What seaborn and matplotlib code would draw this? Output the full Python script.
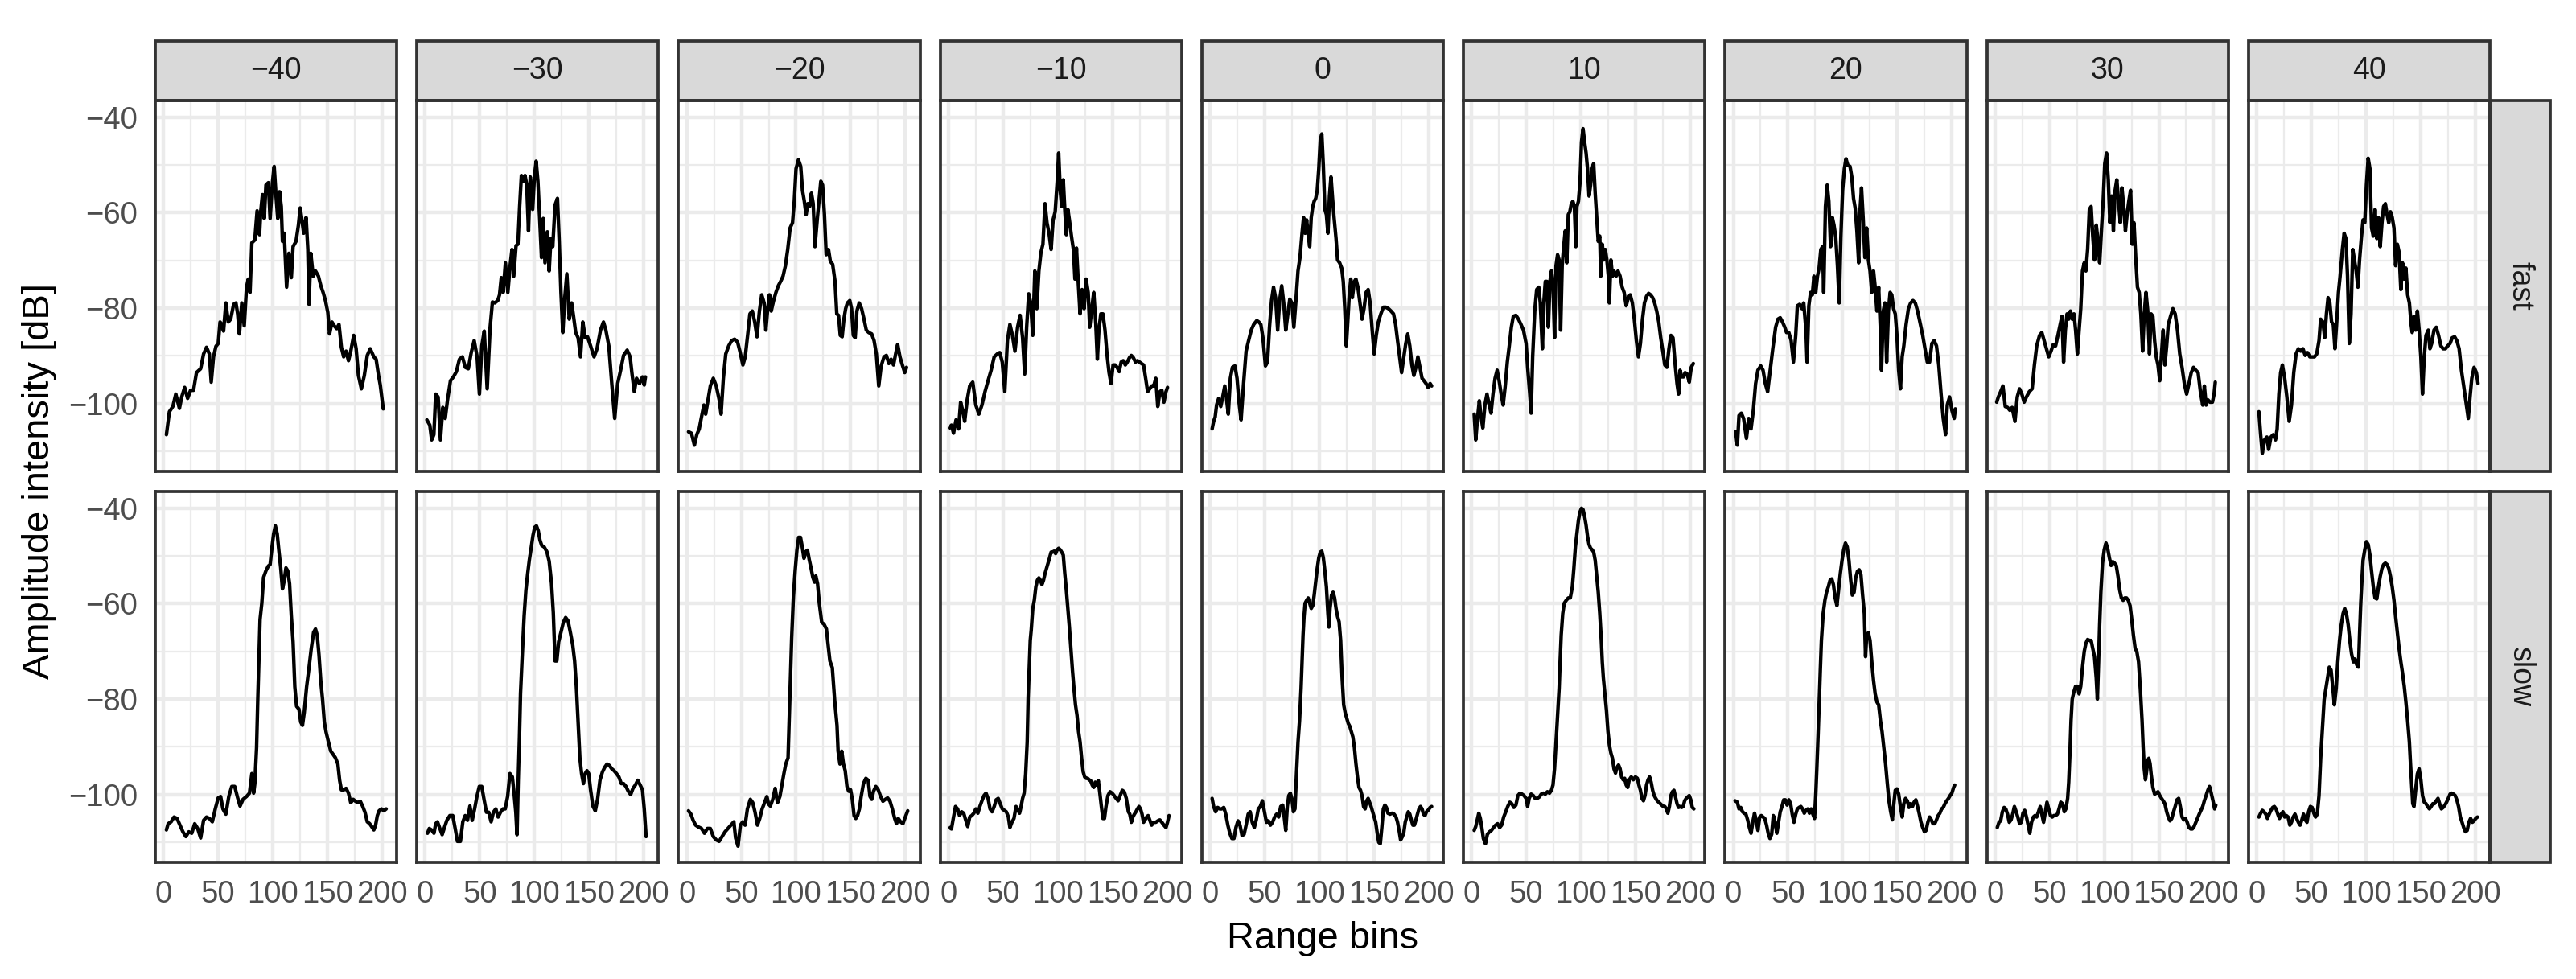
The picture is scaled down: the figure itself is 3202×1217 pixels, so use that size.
import pandas as pd
import matplotlib
matplotlib.use("Agg")
import matplotlib.pyplot as plt
import seaborn as sns
from matplotlib.patches import Rectangle
from matplotlib.ticker import MultipleLocator

# facets
angles = [-40, -30, -20, -10, 0, 10, 20, 30, 40]
speeds = ["fast", "slow"]

# (range bin, amplitude dB)
fast_m40 = [(2.7, -106.5), (5.4, -101.7), (8.6, -100.6), (11.3, -98), (14.6, -101), (16.7, -98.6),
            (19.4, -96.6), (22.1, -98.9), (24.8, -97.2), (27.5, -97.2), (30.2, -93.5), (34, -92.7),
            (36.7, -89.6), (39.4, -88.2), (42, -89.6), (43.7, -95.5), (45.8, -90.2), (48, -88),
            (50.1, -87.4), (51.8, -82.9), (53.4, -83.4), (55, -84.8), (57.1, -78.9), (59.3, -82.9),
            (61.5, -82.3), (64.2, -79.2), (66.3, -78.9), (67.9, -81.2), (69.5, -85.4), (71.7, -78.9),
            (73.9, -83.7), (76, -75.6), (77.6, -73.9), (79.2, -76.7), (80.9, -66.3), (83.6, -65.7),
            (85.7, -59.6), (87.9, -64.6), (89, -59.8), (90.6, -56.2), (92.2, -61.2), (93.8, -54.2),
            (96, -53.7), (97.6, -61.2), (99.7, -53.7), (101.3, -50.3), (103, -56.5), (104.6, -61.2),
            (106.2, -55.6), (107.8, -58.7), (108.9, -66), (110.5, -64.3), (112.7, -75.6), (114.8, -68.5),
            (117, -73.6), (118.6, -67.1), (121.3, -66), (123.5, -62.6), (125.1, -59), (126.7, -61.5),
            (128.3, -64.3), (130.5, -61), (132.1, -67.7), (133.2, -79.2), (134.8, -68.5), (137, -73.3),
            (139.1, -72.2), (141.8, -73.3), (144, -75.3), (146.1, -76.7), (148.2, -78.4), (150.4, -80.9),
            (152, -85.4), (154.2, -82.9), (156.3, -83.7), (158.5, -84.3), (160.6, -83.4), (162.8, -88.2),
            (164.9, -90.2), (167.1, -89), (169.3, -91), (171.4, -89), (174.1, -85.7), (176.3, -88.5),
            (178.4, -94.1), (181.1, -96.9), (183.8, -94.1), (186.5, -89.9), (189.2, -88.5), (192.5, -90.2),
            (194.6, -90.7), (196.8, -94.1), (198.4, -96.1), (201.1, -101.1)]

fast_m30 = [(1.6, -103.4), (4.3, -104.5), (6, -107.6), (8, -106.5), (9.7, -98), (11.9, -98.6),
            (14, -107.6), (16.2, -100.8), (18.4, -103.1), (20.5, -99.2), (23.2, -95.2), (25.9, -94.4),
            (28.6, -93.3), (31.4, -90.7), (34.1, -90.2), (36.8, -92.4), (39.5, -92.7), (42.2, -89.3),
            (44.9, -86.8), (47.6, -90.2), (49.7, -98), (51.9, -87.9), (54.1, -84.8), (56.8, -96.9),
            (59.5, -84), (61.6, -78.7), (63.8, -78.9), (66.5, -78.4), (68.1, -77.2), (69.7, -73.6),
            (71.4, -76.7), (73.5, -70.5), (75.7, -76.7), (77.8, -71.1), (79.5, -67.7), (81.1, -73.3),
            (83.2, -66.9), (84.9, -66.6), (86.5, -58.7), (88.1, -52.2), (89.7, -53.4), (91.4, -52.2),
            (93, -54.2), (94.6, -63.8), (96.2, -52.5), (98.4, -59.3), (100, -52.5), (101.6, -49.2),
            (103.2, -53.4), (104.9, -61.5), (106.5, -69.4), (108.1, -61.2), (109.7, -70.5), (111.9, -64),
            (113.5, -72.2), (115.1, -65.4), (116.8, -67.1), (118.9, -58.4), (121.1, -57), (122.7, -66),
            (124.3, -76.7), (126, -85.1), (127.6, -78.4), (129.7, -72.8), (131.9, -82.3), (134.1, -78.9),
            (135.7, -81.5), (137.8, -85.1), (140, -86.2), (142.2, -90.2), (144.3, -82.9), (146.5, -86.2),
            (148.6, -86), (151.4, -87.9), (154.6, -90.2), (157.3, -88.5), (160.5, -84.6), (163.2, -82.9),
            (165.4, -84.6), (168.1, -87.9), (170.8, -95.8), (173.5, -103.1), (176.2, -95.8), (178.9, -93),
            (181.6, -89.9), (184.9, -88.8), (187.6, -90.2), (189.2, -93.5), (191.4, -97.5), (193.5, -94.7),
            (196.2, -95.8), (198.9, -94.4), (200.5, -96.1), (201.6, -94.4)]

fast_m20 = [(1.6, -105.9), (4.3, -106.2), (7, -108.7), (9.2, -106.5), (11.4, -105.3), (13.5, -102.8),
            (15.7, -100.3), (17.3, -102.2), (18.9, -100), (21.6, -96.3), (24.3, -94.7), (27, -96.3),
            (29.7, -99.2), (31.4, -102.2), (33.5, -94.7), (35.7, -89.6), (38.4, -87.9), (41.1, -86.8),
            (43.8, -86.5), (46.5, -87.1), (48.6, -89), (51.4, -91.9), (53.5, -90.2), (55.7, -85.7),
            (57.8, -81.2), (60, -80.6), (62.2, -82.9), (64.3, -86), (66.5, -80.6), (68.6, -77.2),
            (70.8, -78.9), (72.4, -84.6), (74.1, -80.1), (75.7, -77.2), (77.3, -80.6), (79.5, -78.4),
            (81.6, -76.7), (83.8, -75.3), (85.9, -74.4), (88.1, -73.3), (90.3, -71.1), (92.4, -67.7),
            (94.6, -63.2), (96.8, -62.1), (98.4, -57.6), (100, -50.8), (102.2, -48.9), (104.3, -50.3),
            (105.9, -55.3), (107.6, -57.6), (109.2, -60.4), (110.8, -58.1), (112.4, -58.7), (114.1, -55.9),
            (115.7, -58.1), (117.3, -67.1), (119.5, -61.2), (121.1, -57.3), (122.7, -53.4), (124.3, -54.2),
            (126, -60.4), (127.6, -68.8), (129.7, -67.7), (131.4, -70.2), (133.5, -70.8), (135.7, -74.4),
            (137.3, -81.2), (138.9, -81.5), (140.5, -85.7), (142.2, -86), (143.8, -82.3), (145.4, -80.1),
            (147, -78.9), (149.2, -78.4), (150.8, -80.1), (152.4, -85.7), (154.1, -86.2), (155.7, -80.6),
            (157.8, -78.9), (160, -80.1), (162.2, -82.3), (164.3, -84.6), (166.5, -85.1), (169.2, -85.4),
            (171.4, -86.8), (173.5, -89.6), (175.7, -96.3), (177.8, -92.2), (180.5, -90.2), (182.7, -89.9),
            (184.9, -91.6), (187, -90.7), (189.2, -91.9), (191.4, -89.3), (193, -87.6), (195.1, -90.2),
            (197.3, -91.9), (199.5, -93.5), (201.1, -92.4)]

fast_m10 = [(0.9, -105.1), (2.8, -104.5), (4.7, -106.2), (7, -103.4), (9.3, -105.3), (11.2, -99.7),
            (13, -101.4), (14.9, -103.7), (17.2, -99.2), (19.5, -96.3), (22.3, -95.5), (25.1, -100.3),
            (27.9, -102.2), (30.7, -100.3), (33.5, -97.5), (36.3, -95.2), (39.1, -93), (41.9, -90.2),
            (44.7, -89.6), (47, -89.3), (49.3, -91.3), (51.6, -97.5), (54, -86.8), (56.3, -83.4),
            (58.6, -85.7), (60.9, -89), (63.3, -84), (65.6, -81.5), (67.9, -86.2), (69.8, -93.8),
            (71.6, -84), (73.5, -77), (75.3, -78.9), (77.2, -85.7), (79.1, -72.2), (80.9, -80.1),
            (82.8, -72.2), (84.7, -68.3), (86.5, -66.6), (88.4, -58.1), (90.2, -62.1), (92.1, -64.3),
            (94, -67.7), (95.8, -61.5), (97.7, -59.8), (99.5, -53.7), (100.9, -47.5), (102.3, -55.3),
            (103.7, -58.7), (105.1, -53.1), (106.5, -59.3), (107.9, -64.6), (109.3, -59.3), (110.7, -61.5),
            (112.6, -64.9), (114.4, -67.7), (115.8, -73.9), (117.2, -67.4), (118.6, -73.6), (120.5, -81.2),
            (122.3, -76.1), (124.2, -80.1), (126, -73.9), (127.9, -76.7), (129.3, -84), (131.2, -80.1),
            (133, -76.7), (134.9, -83.4), (136.3, -90.7), (137.7, -84.6), (139.5, -81.2), (141.4, -81.2),
            (143.3, -84.6), (145.1, -89.6), (147, -93.5), (148.8, -95.8), (150.7, -91.9), (152.6, -91.9),
            (154.4, -92.4), (156.3, -93.3), (158.1, -91.3), (160, -91), (161.9, -91.9), (163.7, -91.3),
            (165.6, -90.4), (167.4, -89.9), (169.3, -90.4), (171.2, -91.3), (173, -91), (174.9, -91.3),
            (176.7, -91.6), (178.6, -91.9), (180.5, -94.7), (182.3, -97.5), (184.2, -96.9), (186, -96.3),
            (187.9, -96.3), (189.8, -94.7), (191.6, -100.6), (193.5, -97.5), (195.3, -97.2), (197.2, -99.7),
            (199.1, -97.5), (200.5, -96.6)]

fast_0 = [(1.9, -105.3), (3.3, -103.7), (4.7, -102.8), (6, -100.3), (7.9, -98.9), (9.8, -100.6),
          (11.6, -98.6), (13.5, -96.3), (14.9, -98.6), (16.7, -102.2), (18.6, -94.7), (20.5, -92.4),
          (22.8, -92.1), (24.7, -94.7), (26.5, -99.7), (28.4, -103.4), (30.7, -95.8), (33, -89),
          (35.3, -86.8), (37.7, -84.6), (40, -83.4), (42.8, -82.6), (44.7, -82.9), (46.5, -83.4),
          (48.4, -86.2), (50.7, -92.1), (52.6, -91.3), (54.4, -84), (56.3, -78.4), (58.1, -75.6),
          (60, -77.8), (61.9, -84.6), (63.7, -78.4), (65.6, -75.3), (67.4, -78.9), (69.3, -84.6),
          (71.2, -81.2), (73, -78.1), (74.9, -78.9), (76.7, -84), (78.6, -78.4), (80.5, -72.2),
          (82.3, -69.4), (84.2, -64.3), (85.6, -61), (87, -64.3), (88.4, -61.5), (89.8, -64.6),
          (91.2, -67.1), (92.6, -61), (94, -58.7), (95.3, -57.6), (96.7, -57), (98.1, -55.3),
          (99.5, -50.8), (100.9, -44.7), (102.3, -43.5), (103.7, -50.3), (105.1, -59.3), (106.5, -60.4),
          (107.9, -64.3), (109.3, -56.5), (110.7, -52.5), (112.1, -57), (113.5, -61), (115.3, -65.4),
          (116.7, -69.9), (118.6, -70.5), (120.5, -71.6), (121.9, -74.4), (123.3, -80.1), (124.7, -87.9),
          (126, -82.9), (127.4, -77.2), (128.8, -73.9), (130.2, -77.8), (132.1, -74.4), (133.5, -73.9),
          (135.3, -75.6), (137.2, -78.9), (139.1, -82.3), (140.9, -80.1), (142.8, -76.7), (144.7, -76.1),
          (146.5, -78.9), (148.4, -84.6), (150.2, -89.6), (152.1, -85.7), (154, -82.9), (156.3, -81.2),
          (158.6, -79.8), (160.9, -79.8), (163.3, -80.1), (165.6, -80.6), (167.9, -81.2), (169.8, -83.4),
          (171.6, -86.8), (173.5, -90.2), (175.3, -93.5), (177.2, -90.4), (179.1, -87.4), (180.9, -85.4),
          (182.8, -87.9), (184.7, -91.9), (186.5, -94.1), (188.4, -92.4), (190.2, -90.2), (192.1, -92.4),
          (194, -94.7), (195.8, -95.2), (197.7, -95.8), (199.5, -96.6), (201.4, -95.8), (202.8, -96.3)]

fast_p10 = [(2.3, -102.2), (3.7, -107.6), (5.1, -103.7), (7, -99.4), (8.4, -102.5), (10.2, -105.1),
            (12.1, -100.3), (14, -98), (15.8, -100), (17.7, -102), (19.5, -98), (21.4, -94.7),
            (23.3, -93), (25.1, -95.2), (27, -98), (28.8, -100.3), (30.7, -96.3), (32.6, -91.3),
            (34.4, -87.9), (36.3, -84), (38.1, -81.7), (40.5, -81.5), (42.8, -82.3), (45.1, -83.4),
            (47.4, -84.6), (49.8, -87.4), (51.2, -92.4), (53, -97.5), (54.4, -102), (55.8, -90.2),
            (57.7, -80.6), (59.5, -76.1), (61.4, -75.6), (62.8, -78.9), (64.7, -88.5), (66, -78.9),
            (67.4, -74.4), (68.8, -74.4), (70.2, -84), (71.6, -74.4), (73, -72.2), (74.4, -75),
            (75.8, -86.2), (77.2, -71.1), (78.6, -68.8), (80, -69.9), (81.4, -84.6), (82.8, -71.1),
            (84.2, -67.1), (85.6, -63.8), (87, -70.5), (88.4, -60.4), (89.8, -59.8), (91.2, -58.1),
            (92.6, -57.6), (94, -58.7), (95.3, -67.1), (96.3, -58.7), (97.7, -57.6), (99.1, -53.7),
            (100.5, -45.2), (101.9, -42.4), (103.3, -45.2), (104.7, -47.5), (106, -50.8), (107.4, -56.5),
            (108.8, -54.2), (110.2, -50.8), (111.6, -49.7), (113, -55.9), (114.4, -61), (115.8, -66),
            (117.2, -64.9), (118.1, -73.3), (119.5, -66.6), (120.9, -69.9), (122.3, -67.7), (123.7, -69.9),
            (125.1, -73.3), (126, -78.9), (127.4, -69.9), (128.8, -73.3), (130.2, -72.2), (132.1, -73.3),
            (133.9, -72.2), (135.8, -73.3), (137.7, -75.6), (139.5, -76.7), (141.4, -79.5), (143.3, -77.8),
            (145.1, -77.2), (147, -78.9), (148.8, -82.3), (150.7, -86.8), (152.6, -90.2), (154.4, -87.4),
            (156.3, -82.3), (158.1, -78.9), (160, -77.5), (161.9, -76.9), (163.7, -77.2), (165.6, -77.8),
            (167.4, -78.9), (169.3, -80.6), (171.2, -82.9), (173, -86.2), (174.9, -89), (176.7, -91.9),
            (178.6, -92.4), (180.5, -88.5), (182.3, -85.7), (184.2, -86.2), (186, -91.3), (187.9, -95.8),
            (189.3, -98), (190.7, -93), (192.1, -94.4), (194, -94.4), (195.3, -93.5), (197.2, -93.8),
            (199.1, -95.5), (200.9, -92.4), (202.8, -91.6)]

fast_p20 = [(2.1, -105.9), (3.7, -108.7), (5.2, -102.5), (7.3, -102), (9.4, -103.1), (12, -107.3),
            (14.1, -103.1), (16.2, -105.3), (18.3, -101.4), (20.4, -95.8), (22.5, -93), (25.1, -92.1),
            (27.2, -93), (29.3, -95.8), (31.4, -97.5), (33.5, -93.5), (36.1, -88.5), (38.7, -84),
            (40.8, -82.3), (42.9, -82), (45, -82.9), (47.1, -84), (48.7, -85.1), (50.8, -85.1),
            (52.9, -86.8), (55, -91.3), (57.1, -85.7), (58.6, -79.5), (60.7, -79.2), (62.8, -80.1),
            (64.4, -78.9), (66.5, -84.6), (67.5, -91.3), (69.1, -79.5), (70.7, -76.7), (72.3, -77.2),
            (73.8, -73.3), (75.4, -76.7), (77, -73.3), (78.5, -71.6), (80.1, -67.7), (81.7, -67.1),
            (82.7, -76.7), (84.3, -58.7), (85.9, -54.2), (87.4, -57.6), (89, -67.1), (90.6, -61),
            (92.1, -62.6), (93.7, -65.1), (95.3, -71.1), (96.9, -78.9), (98.4, -65.1), (100, -55.3),
            (101.6, -50.8), (103.1, -48.7), (104.7, -50), (106.8, -50.3), (108.4, -52.5), (110, -57),
            (111.5, -59), (113.1, -63.8), (114.7, -70.5), (115.7, -60.4), (117.3, -54.8), (118.8, -61.2),
            (120.4, -69.4), (122, -63.2), (123.6, -69.9), (125.1, -72.2), (126.7, -76.7), (128.3, -72.2),
            (129.8, -75.6), (131.4, -80.6), (133, -75.6), (134.6, -84.6), (135.6, -93), (137.2, -80.6),
            (138.7, -78.9), (140.3, -91.3), (141.9, -80.6), (143.5, -76.7), (145, -77.2), (146.6, -80.1),
            (148.2, -81.2), (149.7, -85.7), (151.3, -93), (152.9, -96.9), (154.5, -90.2), (156, -87.9),
            (158.1, -83.4), (160.2, -80.1), (162.3, -78.9), (164.4, -78.4), (166.5, -78.9), (168.6, -80.6),
            (171.2, -83.4), (173.3, -85.7), (175.4, -88.5), (177.5, -91.3), (179.6, -91.3), (181.7, -87.4),
            (183.8, -86.8), (185.9, -87.9), (188, -91.9), (190.1, -98), (192.1, -103.1), (194.2, -106.5),
            (195.8, -100.3), (197.9, -98.6), (200, -101.4), (202.1, -103.1), (203.1, -101.1)]

fast_p30 = [(1.6, -99.7), (3.1, -98.6), (5.2, -97.5), (7.3, -96.3), (9.4, -100.6), (11.5, -100.8),
            (13.6, -101.4), (15.7, -100.8), (18.3, -103.7), (20.4, -98.6), (22.5, -96.9), (24.6, -98),
            (26.7, -99.7), (28.8, -98.6), (31.4, -97.5), (34, -96.9), (36.1, -91.9), (38.2, -87.9),
            (40.8, -85.7), (42.9, -85.1), (45, -86.8), (47.1, -88.5), (49.2, -90.2), (51.3, -89),
            (53.4, -87.6), (55.5, -87.9), (57.6, -85.7), (59.7, -83.4), (61.3, -81.7), (62.8, -91.3),
            (64.4, -84.6), (66, -81.2), (67.5, -82.3), (69.1, -80.6), (70.7, -82.3), (72.3, -81.2),
            (73.8, -84.6), (75.4, -89.6), (77, -84.6), (78.5, -80.1), (80.1, -72.2), (81.7, -70.5),
            (83.2, -72.2), (84.8, -67.7), (86.4, -59.3), (88, -58.7), (89.5, -64.9), (91.1, -69.9),
            (92.7, -62.6), (94.2, -65.7), (95.8, -70.5), (97.4, -63.8), (99, -57.6), (100.5, -49.7),
            (102.1, -47.5), (103.7, -53.1), (105.2, -62.1), (106.8, -56.5), (108.4, -63.8), (110, -55.3),
            (111.5, -53.1), (113.1, -57.6), (114.7, -62.1), (116.2, -54.8), (117.8, -58.7), (119.4, -63.8),
            (120.9, -60.4), (122.5, -57.6), (124.1, -55.3), (125.7, -66.6), (127.2, -62.1), (128.8, -69.4),
            (130.4, -75.6), (132, -76.7), (133.5, -81.2), (135.1, -89), (136.6, -81.2), (138.2, -76.7),
            (139.8, -80.6), (141.4, -89.6), (142.9, -81.2), (144.5, -81.7), (146.1, -86.8), (147.6, -90.2),
            (149.2, -91.9), (150.8, -95.2), (152.4, -89.6), (153.9, -84.6), (155.5, -91.9), (157.1, -87.9),
            (158.6, -83.4), (160.7, -81.7), (162.8, -80.1), (164.9, -81.2), (167, -84.6), (169.1, -89.6),
            (171.2, -92.4), (173.3, -95.8), (175.4, -98), (177.5, -95.8), (179.6, -93.5), (181.7, -92.4),
            (183.8, -93), (185.9, -93.5), (188, -97.5), (190.1, -100.3), (191.6, -96.3), (193.2, -100.3),
            (194.8, -99.2), (196.9, -99.7), (199, -99.7), (200.5, -98), (201.6, -95.5)]

fast_p40 = [(2.1, -101.7), (3.7, -106.5), (5.2, -110.4), (7.3, -107.6), (9.4, -107), (11, -109.6),
            (13.1, -107), (15.2, -106.5), (17.3, -107.6), (18.8, -105.3), (20.4, -98), (22, -93.5),
            (23.6, -91.9), (25.7, -94.7), (27.7, -98.6), (29.8, -103.7), (31.9, -100.3), (34, -93.5),
            (36.1, -89.6), (38.2, -88.5), (40.3, -89), (42.4, -88.5), (44.5, -89.9), (46.6, -89.3),
            (48.7, -90.2), (50.8, -90.2), (52.9, -90.2), (55, -89.6), (57.1, -86.8), (58.6, -82.3),
            (60.7, -82.9), (62.3, -86.2), (63.9, -81.2), (65.4, -77.8), (67, -78.9), (68.6, -82.9),
            (70.2, -83.4), (71.7, -88.5), (73.3, -82.9), (74.9, -76.7), (76.4, -73.3), (78.5, -67.7),
            (80.1, -64.3), (81.7, -65.4), (83.2, -73.3), (84.8, -87.4), (86.4, -81.2), (88, -67.7),
            (89.5, -69.9), (91.1, -72.2), (92.7, -75.6), (94.2, -69.9), (95.8, -65.4), (97.4, -61.5),
            (99, -62.1), (100.5, -54.2), (102.1, -48.6), (103.7, -50.8), (105.2, -63.2), (106.8, -64.9),
            (108.4, -59.3), (110, -65.4), (111.5, -61), (113.1, -67.1), (114.7, -62.1), (116.2, -58.7),
            (117.8, -58.1), (119.4, -60.4), (120.9, -62.1), (122.5, -59.8), (124.1, -61), (125.7, -63.2),
            (127.2, -71.1), (128.8, -66.6), (130.4, -68.3), (132, -76.1), (133.5, -70.5), (135.1, -73.9),
            (136.6, -71.6), (138.2, -77.2), (139.8, -78.9), (141.4, -83.4), (142.4, -85.1), (144, -81.7),
            (145.5, -84.6), (147.1, -80.6), (148.7, -84.6), (150.3, -90.2), (151.8, -98), (153.4, -90.2),
            (155, -85.7), (157.1, -84.6), (158.6, -88.5), (160.2, -87.4), (162.3, -84.6), (164.4, -84),
            (166.5, -85.7), (168.6, -87.9), (170.7, -88.5), (172.8, -88.5), (174.9, -87.9), (177, -87.4),
            (179, -86.2), (181.2, -86), (183.2, -86.8), (185.3, -88.5), (187.4, -93), (189.5, -96.3),
            (191.6, -99.7), (193.7, -103.1), (195.3, -98.6), (196.9, -94.7), (199, -92.4), (201.1, -93.5),
            (202.6, -95.8)]

slow_m40 = [(2.7, -107.4), (4.3, -106.1), (7, -105.7), (9.7, -104.7), (12.4, -105), (15.1, -106.4),
            (17.8, -107.8), (20.5, -108.8), (23.2, -107.8), (25.9, -108.1), (28.6, -106.1), (31.3, -107.1),
            (34, -109.1), (36.7, -105.4), (39.4, -104.7), (42, -105), (44.7, -105.7), (47.4, -103),
            (50.1, -100.7), (52.3, -100.4), (54.4, -103), (57.1, -104.1), (59.8, -100.4), (62.5, -98.3),
            (65.2, -98.3), (67.9, -100.7), (70.1, -102.4), (72.8, -101), (76, -100.4), (78.7, -99.7),
            (80.9, -95.6), (82.5, -99.7), (83.6, -97.7), (85.2, -90.2), (86.3, -80.1), (87.3, -72),
            (88.4, -63.3), (90, -59.9), (91.6, -54.5), (93.8, -53.1), (96, -52.1), (97.6, -51.8),
            (99.2, -48.4), (100.8, -45.4), (102.4, -43.7), (104.1, -45.4), (105.7, -49.1), (107.3, -52.5),
            (108.9, -56.9), (110.5, -55.2), (112.1, -52.5), (113.7, -53.1), (115.4, -55.8), (117, -62.6),
            (118.6, -68), (120.2, -77.4), (121.8, -81.5), (124, -82.1), (125.6, -84.8), (127.2, -85.5),
            (128.8, -82.8), (131, -77.4), (133.2, -73.4), (135.3, -69.3), (137.4, -66), (139.1, -65.3),
            (140.7, -66.6), (142.3, -70.7), (143.9, -76.1), (145.6, -80.1), (147.2, -84.8), (148.8, -86.9),
            (150.9, -88.9), (153.1, -90.9), (155.3, -91.6), (157.4, -92.3), (159.6, -93.6), (161.2, -97),
            (162.8, -99), (165, -99), (167.1, -98.7), (169.3, -99.7), (171.4, -101.7), (173.6, -101),
            (175.7, -101.4), (177.9, -101.7), (180.1, -101.4), (182.2, -102.4), (184.4, -103.7), (186.5, -105.7),
            (188.7, -106.1), (190.8, -106.8), (192.5, -107.4), (194.1, -106.4), (195.7, -104.4), (197.3, -103.4),
            (199.5, -103), (201.6, -103.4), (203.8, -103)]

slow_m30 = [(2.2, -108.1), (3.8, -107.1), (5.9, -107.4), (8.1, -108.1), (9.7, -106.1), (11.3, -105.7),
            (13.5, -107.1), (15.6, -108.4), (17.8, -106.8), (19.9, -105.4), (22.6, -104.4), (25.3, -104.4),
            (27.5, -107.1), (29.6, -109.8), (32.3, -109.8), (34.5, -105.7), (36.7, -104.4), (38.8, -105.4),
            (41, -102.4), (43.1, -105.4), (45.3, -103), (47.4, -100.4), (49.6, -98.3), (51.8, -98.3),
            (53.9, -101), (56.1, -103.7), (58.2, -103.7), (60.4, -105.7), (62.5, -103.7), (64.7, -103),
            (66.8, -104.7), (69, -103.7), (71.2, -103), (73.3, -103), (75.5, -100.4), (77.6, -95.6),
            (79.8, -96.3), (81.4, -99.7), (83, -103.7), (84.1, -108.4), (85.2, -97), (86.3, -88.2),
            (87.3, -78.8), (88.9, -70.7), (90.6, -62.6), (92.2, -57.2), (93.8, -53.8), (95.4, -50.8),
            (97, -48.4), (98.7, -45.7), (100.3, -44), (101.9, -43.7), (103.5, -44.7), (105.1, -46.7),
            (106.7, -47.8), (108.9, -48.1), (111.4, -49.1), (113.5, -51.1), (115.7, -55.8), (117.3, -61.9),
            (118.9, -72), (120.5, -72), (122.2, -68), (124.3, -66), (126.5, -63.9), (128.6, -62.9),
            (130.8, -63.6), (132.9, -66), (135.1, -68.7), (136.8, -72), (138.4, -77.4), (140, -84.8),
            (141.6, -92.3), (143.2, -95.6), (144.9, -97.7), (146.5, -95.6), (148.1, -95), (149.7, -95.6),
            (151.4, -99), (153.5, -102.4), (155.7, -103.4), (157.8, -101), (160, -97), (162.2, -95.3),
            (164.3, -94.3), (166.5, -93.6), (168.6, -93.9), (170.8, -94.6), (172.9, -95), (175.1, -95.6),
            (177.3, -96.3), (179.5, -97.7), (181.6, -97.7), (183.8, -98.3), (185.9, -99.3), (188.1, -100),
            (190.2, -98.7), (192.4, -98), (194.6, -97), (196.8, -98), (198.9, -99), (200.5, -103),
            (202.2, -108.8)]

slow_m20 = [(1.6, -103.4), (3.8, -104.1), (5.9, -105.4), (8.1, -106.4), (10.8, -106.8), (13.5, -107.1),
            (16.2, -108.1), (18.9, -107.1), (21.6, -107.1), (24.3, -108.8), (27, -109.5), (29.6, -109.8),
            (32.3, -108.8), (35, -107.8), (37.7, -107.1), (40.4, -106.4), (43.1, -105.7), (44.7, -109.1),
            (46.9, -110.8), (49.1, -106.4), (51.2, -105.7), (53.4, -106.4), (55.5, -103), (58.2, -101),
            (60.4, -101.7), (62.5, -103.7), (64.7, -106.4), (66.8, -105), (69, -103), (71.2, -101.7),
            (73.3, -100.4), (74.9, -102), (76.5, -102.4), (78.7, -101), (80.9, -98.7), (83, -101.7),
            (85.2, -100.4), (87.3, -97.7), (88.9, -95.6), (90.6, -93.6), (92.7, -92.3), (94.3, -80.1),
            (96, -67.3), (97.6, -58.5), (99.2, -53.1), (100.8, -48.8), (102.4, -46.1), (104.1, -46.1),
            (105.7, -48.1), (107.3, -50.5), (108.9, -49.1), (110.5, -48.8), (112.1, -50.8), (113.7, -52.5),
            (115.4, -54.5), (117, -55.5), (118.1, -54.2), (119.7, -55.8), (121.3, -59.9), (123.5, -63.9),
            (125.6, -64.3), (127.8, -65.3), (129.4, -68.7), (131, -72), (133.2, -73.4), (135.3, -80.1),
            (137.5, -85.5), (138.5, -90.9), (140.2, -93.6), (141.8, -90.9), (143.4, -93.6), (145, -95),
            (146.6, -98.3), (148.2, -99.3), (149.9, -99), (151.5, -101), (153.1, -104.4), (154.7, -105),
            (156.3, -104.4), (158, -103), (159.6, -100.4), (161.7, -97.7), (163.9, -96.6), (166, -97),
            (167.7, -100.4), (169.3, -101), (170.9, -99.3), (173, -98.3), (175.2, -99), (177.4, -100.4),
            (179.5, -101.4), (181.7, -101), (183.8, -100.7), (186, -101.4), (188.1, -103), (190.3, -105),
            (191.9, -106.1), (193.5, -105), (195.7, -105.7), (197.8, -106.1), (200, -104.7), (202.2, -103.4)]

slow_m10 = [(0.9, -106.9), (2.8, -107.2), (4.7, -104.7), (6.5, -102.5), (8.4, -103), (10.2, -104.4),
            (12.1, -103.6), (14, -103.9), (15.8, -105.3), (17.7, -106.7), (19.5, -104.7), (21.4, -104.4),
            (23.3, -103.9), (25.1, -103), (27, -103.9), (28.8, -102.5), (30.7, -101.3), (32.6, -100.2),
            (34.4, -99.7), (36.3, -100.8), (38.1, -103), (40, -103.6), (41.9, -102.5), (43.7, -101.1),
            (45.6, -100.8), (47.4, -101.9), (49.3, -103), (51.2, -103.3), (53, -103.6), (54.9, -104.7),
            (56.3, -106.9), (58.1, -105.8), (60, -105), (61.9, -102.5), (63.7, -103.3), (65.1, -103.9),
            (66.5, -102.5), (67.9, -100.8), (69.3, -99.7), (70.7, -95.7), (72.1, -89), (73, -79.5),
            (74, -73.3), (74.9, -67.7), (75.8, -65.5), (77.2, -61), (78.6, -59.3), (80, -56.5),
            (81.4, -55.1), (82.8, -54.6), (84.2, -55.1), (85.6, -56), (87, -55.1), (88.4, -53.7),
            (89.8, -52.6), (91.2, -51.5), (92.6, -50.4), (94, -49.2), (95.3, -49.2), (96.7, -49),
            (98.1, -49.5), (99.5, -48.7), (100.9, -48.4), (102.3, -48.7), (103.7, -49.2), (105.1, -49.8),
            (106.5, -53.7), (107.9, -57.1), (109.3, -61), (110.7, -64.9), (112.1, -69.4), (113.5, -73.9),
            (114.9, -77.8), (116.3, -81.2), (117.7, -83.4), (119.1, -86.8), (120.5, -89), (121.9, -92.4),
            (123.3, -95.2), (124.7, -96.3), (126, -96.6), (127.4, -96.6), (128.8, -96.9), (130.2, -97.1),
            (131.6, -98), (133, -98.5), (134.4, -97.4), (135.8, -98), (137.2, -97.1), (138.6, -99.7),
            (140, -102.5), (141.4, -105), (142.8, -105), (144.2, -102.5), (146, -100.2), (147.9, -99.4),
            (149.8, -99.7), (151.6, -100.2), (153.5, -100.8), (155.3, -101.3), (157.2, -100.2), (159.1, -99.1),
            (160.9, -99.4), (162.8, -100.8), (164.7, -103.6), (166, -104.1), (167.4, -105.8), (168.8, -104.7),
            (170.2, -104.1), (171.6, -103.6), (173, -103), (174.4, -102.5), (175.8, -103), (177.2, -104.1),
            (178.6, -105.8), (180, -105.3), (181.4, -104.7), (182.8, -104.4), (184.2, -105.3), (186, -106.4),
            (187.9, -105.8), (189.8, -105.8), (191.6, -105.5), (193.5, -105.3), (195.3, -105.8), (197.2, -106.4),
            (199.1, -106.9), (200.5, -105.8), (201.9, -104.4)]

slow_0 = [(1.9, -100.8), (3.3, -102.5), (5.1, -103.6), (7, -102.7), (8.8, -103), (10.7, -103),
          (12.6, -102.7), (14.4, -104.1), (16.3, -106.4), (18.1, -108.1), (20, -109.2), (21.9, -109.2),
          (23.7, -106.9), (25.6, -105.5), (27.4, -106.4), (29.3, -108.6), (31.2, -108.3), (33, -106.4),
          (34.9, -104.1), (36.7, -103.6), (38.6, -105.8), (40.5, -106.9), (42.3, -105.3), (44.2, -103),
          (46, -102.5), (47.9, -101.3), (49.8, -103.6), (51.6, -105.8), (53.5, -105.5), (55.3, -106.4),
          (57.2, -105.8), (59.1, -104.7), (60.9, -104.1), (62.8, -104.7), (64.7, -102.5), (66.5, -102.2),
          (67.9, -104.7), (69.3, -107.5), (70.7, -102.5), (72.1, -100.2), (73.5, -99.7), (74.9, -100.8),
          (76.3, -103.6), (77.7, -103), (79.1, -95.7), (80.5, -89), (81.9, -84.5), (83.3, -77.8),
          (84.2, -72.2), (85.1, -66.6), (86, -62.7), (87, -59.9), (88.4, -59.3), (89.8, -58.8),
          (91.2, -59.9), (92.6, -61), (94, -60.4), (95.3, -58.2), (96.7, -55.4), (98.1, -52.6),
          (99.5, -50.4), (100.9, -49.2), (102.3, -49), (103.7, -50.4), (105.1, -53.2), (106.5, -56.5),
          (107.9, -62.1), (108.8, -64.9), (109.8, -61), (111.2, -58.2), (112.6, -57.6), (114, -58.8),
          (115.3, -61), (116.7, -62.7), (118.1, -63.8), (119.5, -67.7), (120.9, -75.6), (122.3, -81.2),
          (123.7, -82.9), (125.1, -84), (126.5, -85.1), (127.9, -85.7), (129.3, -86.8), (130.7, -87.9),
          (132.1, -90.1), (133.5, -93.5), (134.9, -96.3), (136.3, -98.5), (137.7, -99.1), (139.1, -100.2),
          (140.5, -102.5), (141.9, -103), (143.3, -101.3), (144.7, -100.8), (146, -101.6), (147.4, -102.5),
          (148.8, -103.6), (150.2, -104.7), (151.6, -105.8), (153, -108.1), (154.4, -110), (155.8, -110.3),
          (157.2, -106.9), (158.6, -103), (160, -102.2), (161.4, -102.7), (162.8, -103.9), (164.7, -104.1),
          (166.5, -103.9), (168.4, -104.1), (170.2, -104.7), (171.6, -105.8), (173, -107.5), (174.4, -109.5),
          (175.8, -108.9), (177.2, -108.1), (178.6, -105.8), (180, -104.7), (181.4, -103.6), (182.8, -104.1),
          (184.2, -105.3), (185.6, -106.4), (187, -106.4), (188.4, -105.3), (189.8, -104.1), (191.2, -103),
          (192.6, -102.5), (194, -103), (195.3, -104.1), (196.7, -104.4), (198.1, -103.6), (199.5, -103.3),
          (201.4, -102.7), (202.8, -102.5)]

slow_p10 = [(2.3, -107.5), (3.7, -106.7), (5.1, -105.3), (6.5, -103.9), (7.9, -105), (9.3, -106.9),
            (10.7, -109.2), (12.6, -110.3), (14.4, -108.3), (16.3, -107.8), (18.1, -107.5), (20, -106.9),
            (21.9, -106.4), (23.7, -106.1), (25.6, -106.9), (27.4, -106.4), (29.3, -104.7), (31.2, -103.6),
            (33, -102.5), (34.9, -101.6), (36.7, -101.9), (38.6, -102.7), (40.5, -102.2), (42.3, -100.2),
            (44.2, -99.7), (46, -99.9), (47.9, -100.2), (49.8, -100.8), (51.2, -102.5), (52.6, -100.8),
            (54.4, -99.9), (56.3, -100.2), (58.1, -100.8), (60, -100.8), (61.9, -100.5), (63.7, -99.9),
            (65.6, -99.7), (67.4, -99.9), (69.3, -99.4), (71.2, -99.7), (73, -99.1), (74.4, -98),
            (75.8, -94.6), (77.2, -89), (78.6, -83.4), (80, -77.8), (80.9, -72.2), (81.9, -66.6),
            (83.3, -62.1), (84.7, -59.9), (86.5, -59.3), (88.4, -58.8), (90.2, -58.8), (92.1, -56.5),
            (93.5, -52.6), (94.9, -48.1), (96.3, -45.3), (97.7, -42.5), (99.1, -40.8), (100.5, -40),
            (101.9, -40.3), (103.3, -41.7), (104.7, -43.6), (106, -45.9), (107.4, -47.6), (108.8, -48.4),
            (110.2, -48.7), (111.6, -49.2), (113, -50.9), (114.4, -54.3), (115.8, -57.6), (117.2, -62.1),
            (118.6, -67.7), (119.5, -72.2), (120.5, -75.6), (121.9, -78.9), (123.3, -82.3), (124.7, -86.8),
            (126, -89.6), (127.4, -91.3), (128.8, -92.4), (130.2, -94.6), (131.6, -95.5), (133, -94.3),
            (134.4, -93.8), (135.8, -94.6), (137.2, -96.3), (138.6, -96.9), (140, -96.6), (141.4, -98),
            (142.8, -98.5), (144.2, -96.9), (146, -96.3), (147.9, -96.9), (149.8, -96.3), (151.6, -96.6),
            (153, -98), (154.4, -99.1), (155.8, -100.8), (157.2, -101.3), (158.6, -100.2), (160, -98),
            (161.4, -96.9), (162.8, -96.3), (164.2, -97.4), (165.6, -99.1), (167, -100.2), (168.4, -100.8),
            (169.8, -101.3), (171.2, -101.6), (172.6, -101.9), (174, -102.2), (175.3, -102.5), (176.7, -102.5),
            (178.1, -103), (179.5, -103.9), (180.9, -102.5), (182.3, -100.2), (183.7, -99.4), (185.1, -99.1),
            (186.5, -100.5), (187.9, -101.9), (189.3, -102.7), (190.7, -102.5), (192.1, -102.7), (193.5, -102.5),
            (194.9, -101.3), (196.3, -100.8), (197.7, -100.5), (199.1, -100.2), (200.5, -101.1), (201.9, -102.7),
            (203.3, -103)]

slow_p20 = [(1.6, -101.3), (3.7, -101.6), (5.2, -103), (6.8, -102.7), (8.4, -103.6), (9.9, -103.9),
            (11.5, -104.1), (13.1, -105.3), (14.7, -106.9), (16.2, -108.1), (17.8, -105.8), (19.4, -103.9),
            (20.9, -105.3), (22.5, -107.5), (24.1, -104.7), (25.6, -104.4), (27.2, -104.7), (28.8, -105),
            (30.4, -106.4), (31.9, -108.1), (33.5, -109.2), (35.1, -108.3), (36.6, -104.4), (38.2, -105.8),
            (39.8, -108.1), (41.4, -105.8), (42.9, -103.6), (44.5, -102.5), (46.1, -101.1), (47.6, -101.1),
            (49.2, -102.2), (50.8, -101.1), (52.4, -101.9), (53.9, -104.1), (55.5, -105.8), (57.1, -104.1),
            (58.6, -103), (60.2, -102.7), (61.8, -102.5), (63.4, -103), (64.9, -103.9), (66.5, -103.3),
            (68.1, -103), (69.6, -103.9), (71.2, -103), (72.8, -104.1), (74.3, -105), (75.4, -100.2),
            (76.4, -94.6), (77.5, -87.9), (78.5, -81.2), (79.6, -73.9), (80.6, -67.7), (82.2, -62.1),
            (83.8, -59.3), (85.3, -57.6), (86.9, -56.5), (88.5, -55.1), (90.1, -54.8), (91.6, -56),
            (93.2, -58.8), (94.8, -60.4), (96.3, -57.1), (97.9, -53.7), (99.5, -50.9), (101, -48.7),
            (102.6, -47.3), (104.2, -48.1), (105.8, -50.9), (107.3, -54.8), (108.9, -58.2), (110.5, -57.6),
            (112, -54.6), (113.6, -53.2), (115.2, -52.9), (116.8, -54), (118.3, -58.2), (119.9, -62.1),
            (121, -71.1), (122, -66.6), (123.6, -66.1), (125.1, -67.7), (126.7, -72.2), (128.3, -76.1),
            (129.8, -78.9), (131.4, -80.6), (133, -81.2), (134.6, -84.5), (136.1, -86.8), (137.7, -90.1),
            (139.3, -93.5), (140.8, -97.4), (142.4, -101.3), (144, -103.6), (145.5, -105.3), (146.6, -102.5),
            (148.2, -99.1), (149.7, -98.8), (151.3, -99.9), (152.9, -102.5), (154.5, -104.7), (156, -101.9),
            (157.6, -100.8), (159.2, -101.3), (160.7, -102.7), (162.3, -101.9), (163.9, -102.5), (165.4, -101.6),
            (167, -101.1), (168.6, -102.5), (170.2, -104.1), (171.7, -105.8), (173.3, -106.9), (174.9, -107.8),
            (176.4, -107.5), (178, -105.8), (179.6, -104.7), (181.2, -105.3), (182.7, -106.1), (184.3, -106.1),
            (185.9, -105.3), (187.4, -104.4), (189, -103.9), (190.6, -103), (192.1, -102.7), (193.7, -101.9),
            (195.3, -101.3), (196.9, -100.8), (198.4, -100.2), (200, -99.7), (201.6, -98.5), (202.6, -98)]

slow_p30 = [(2.1, -106.9), (3.7, -105.8), (5.2, -105.5), (6.8, -103.6), (8.4, -102.7), (9.9, -103),
            (11.5, -104.1), (13.1, -105.8), (14.7, -105.3), (16.2, -104.1), (17.8, -102.5), (19.4, -103.6),
            (20.9, -104.7), (22.5, -106.1), (24.1, -105.8), (25.6, -103.9), (27.2, -103.3), (28.8, -104.7),
            (30.4, -106.4), (31.9, -108.1), (33.5, -105.8), (35.1, -104.7), (36.6, -104.4), (38.2, -104.7),
            (39.8, -103.6), (41.4, -102.5), (42.9, -104.1), (44.5, -105.8), (46.1, -103.6), (47.6, -101.6),
            (49.2, -103), (50.8, -104.4), (52.4, -104.7), (53.9, -104.4), (55.5, -104.4), (57.1, -104.1),
            (58.6, -103), (60.2, -101.6), (61.8, -101.9), (63.4, -103.6), (64.9, -103), (66.5, -100.8),
            (67.5, -97.4), (68.6, -91.3), (69.6, -84.5), (70.7, -80), (72.3, -78.4), (73.8, -77.3),
            (75.4, -77.3), (77, -78.9), (78.5, -77.3), (80.1, -73.3), (81.7, -70), (83.2, -68.3),
            (84.8, -67.5), (86.4, -67.7), (88, -67.7), (89.5, -69.4), (91.1, -71.1), (92.7, -75.6),
            (93.7, -80), (94.8, -72.2), (95.8, -64.4), (96.9, -57.6), (98.4, -51.5), (100, -48.7),
            (101.6, -47.3), (103.1, -48.4), (104.7, -50.4), (106.3, -52), (107.9, -51.2), (109.4, -51.5),
            (111, -52), (112.6, -54.3), (114.1, -57.1), (115.7, -58.8), (117.3, -59.3), (118.8, -58.8),
            (120.4, -58.8), (122, -59.3), (123.6, -60.4), (125.1, -63.2), (126.7, -66.6), (128.3, -69.4),
            (129.8, -70), (131.4, -72.2), (133, -77.8), (134.6, -84.5), (135.6, -90.1), (136.6, -94.6),
            (137.7, -96.9), (138.7, -95.2), (139.8, -92.9), (140.8, -92.4), (141.9, -93.5), (142.9, -95.7),
            (144.5, -98.5), (146.1, -99.9), (147.6, -99.7), (149.2, -99.4), (150.8, -100.2), (152.4, -100.8),
            (153.9, -101.3), (155.5, -101.9), (157.1, -103.6), (158.6, -104.7), (160.2, -105.5), (161.8, -105),
            (163.4, -103.6), (164.9, -102.5), (166.5, -101.1), (168.1, -100.8), (169.6, -102.5), (171.2, -104.7),
            (172.8, -105.3), (174.3, -105), (175.9, -105.8), (177.5, -106.9), (179.1, -107.2), (180.6, -107.2),
            (182.2, -106.7), (183.8, -105.8), (185.3, -105), (186.9, -104.1), (188.5, -103.3), (190.1, -102.5),
            (191.6, -101.3), (193.2, -100.2), (194.8, -99.1), (196.3, -98.3), (197.9, -99.7), (199.5, -101.3),
            (201, -103), (202.1, -102.2)]

slow_p40 = [(2.1, -104.7), (3.7, -103.9), (5.2, -103.3), (6.8, -103.6), (8.4, -104.1), (9.9, -105),
            (11.5, -104.1), (13.1, -103.3), (14.7, -102.7), (16.2, -102.5), (17.8, -103), (19.4, -104.1),
            (20.9, -105), (22.5, -104.1), (24.1, -103.6), (25.7, -104.7), (27.2, -104.4), (28.8, -104.7),
            (30.4, -106.4), (31.9, -105.8), (33.5, -104.7), (35.1, -104.1), (36.6, -105), (38.2, -105.8),
            (39.8, -106.4), (41.4, -105.3), (42.9, -104.1), (44.5, -105.3), (46.1, -105.8), (47.6, -103.6),
            (49.2, -102.5), (50.8, -102.7), (52.4, -103.9), (53.9, -104.7), (55.5, -104.1), (57.1, -100.2),
            (58.6, -92.4), (60.2, -86.2), (61.8, -80.1), (63.4, -77.8), (64.9, -75.6), (66.5, -73.3),
            (68.1, -73.9), (69.6, -77.3), (71.2, -81.2), (72.8, -77.8), (74.3, -72.2), (75.9, -67.7),
            (77.5, -64.4), (79.1, -62.1), (80.6, -61), (82.2, -62.1), (83.8, -64.4), (85.3, -67.7),
            (86.9, -70.5), (88.5, -72.2), (90.1, -71.6), (91.6, -72.8), (93.2, -73.3), (94.2, -66.6),
            (95.3, -59.9), (96.3, -55.4), (97.4, -50.9), (99, -48.7), (100.5, -47), (102.1, -47.6),
            (103.7, -49.8), (105.2, -53.2), (106.8, -56.5), (108.4, -58.8), (110, -59), (111.5, -56.5),
            (113.1, -54.3), (114.7, -52.6), (116.2, -51.8), (117.8, -51.5), (119.4, -51.8), (120.9, -52.6),
            (122.5, -54.3), (124.1, -56.5), (125.7, -59.3), (127.2, -62.7), (128.8, -66.1), (130.4, -69.4),
            (132, -72.2), (133.5, -74.5), (135.1, -77.3), (136.6, -80.6), (138.2, -84.5), (139.8, -89),
            (140.8, -93.5), (141.9, -98), (142.9, -101.9), (144, -102.5), (145.5, -99.1), (147.1, -95.7),
            (148.7, -94.6), (150.3, -96.9), (151.8, -100.2), (153.4, -101.6), (155, -101.9), (156.5, -102.5),
            (158.1, -103), (159.7, -102.5), (161.3, -101.9), (162.8, -101.9), (164.4, -101.3), (166, -100.8),
            (167.5, -101.9), (169.1, -103), (170.7, -102.7), (172.3, -102.2), (173.8, -101.6), (175.4, -100.8),
            (177, -99.9), (178.5, -99.7), (180.1, -99.9), (181.7, -100.2), (183.2, -101.1), (184.8, -102.5),
            (186.4, -104.7), (188, -105.8), (189.5, -106.9), (191.1, -107.8), (192.7, -107.5), (194.2, -105.8),
            (195.8, -105), (197.4, -105.8), (199, -105.5), (200.5, -105), (202.1, -104.7)]

fast_series = [fast_m40, fast_m30, fast_m20, fast_m10, fast_0, fast_p10, fast_p20, fast_p30, fast_p40]
slow_series = [slow_m40, slow_m30, slow_m20, slow_m10, slow_0, slow_p10, slow_p20, slow_p30, slow_p40]

rows = []
for speed, series in zip(speeds, [fast_series, slow_series]):
    for angle, pts in zip(angles, series):
        for b, v in pts:
            rows.append((speed, angle, b, v))
df = pd.DataFrame(rows, columns=["speed", "angle", "bin", "db"])

sns.set_theme(style="white")
plt.rcParams['font.family'] = ['Liberation Sans', 'DejaVu Sans']

g = sns.relplot(data=df, x="bin", y="db", row="speed", col="angle",
                row_order=speeds, col_order=angles, kind="line",
                estimator=None, sort=False, color="black", linewidth=1.05,
                height=2, aspect=0.65,
                facet_kws=dict(sharex=True, sharey=True, despine=False))

fig = g.figure
fig.set_size_inches(3202 / 300, 1217 / 300)
fig.subplots_adjust(left=193 / 3202, right=3095 / 3202, top=1 - 125 / 1217,
                    bottom=1 - 1072 / 1217, wspace=25 / 300, hspace=25 / 461)

g.set_titles("")
g.set_axis_labels("", "")

border = "#333333"
nrow, ncol = g.axes.shape
for i in range(nrow):
    for j in range(ncol):
        ax = g.axes[i, j]
        ax.set_xlim(-7.5, 213.5)
        ax.set_ylim(-114.2, -36.5)
        ax.xaxis.set_major_locator(MultipleLocator(50))
        ax.xaxis.set_minor_locator(MultipleLocator(25))
        ax.yaxis.set_major_locator(MultipleLocator(20))
        ax.yaxis.set_minor_locator(MultipleLocator(10))
        ax.set_facecolor("white")
        ax.set_axisbelow(True)
        ax.grid(which="major", color="#EBEBEB", linewidth=1.07)
        ax.grid(which="minor", color="#EBEBEB", linewidth=0.53)
        for s in ax.spines.values():
            s.set_color(border)
            s.set_linewidth(0.9)
        ax.tick_params(which="minor", length=0)
        ax.tick_params(which="major", labelsize=9.2, labelcolor="#4D4D4D",
                       color=border, width=0.8, length=2.75, pad=2.5)
        if i < nrow - 1:
            ax.tick_params(axis="x", which="major", length=0)
        if j > 0:
            ax.tick_params(axis="y", which="major", length=0)

        # column strips on top row
        if i == 0:
            h = 74 / 461
            ax.add_patch(Rectangle((0, 1), 1, h, transform=ax.transAxes, clip_on=False,
                                   facecolor="#D9D9D9", edgecolor=border, linewidth=0.9))
            ax.text(0.5, 1 + h / 2, "\u2212" + str(abs(angles[j])) if angles[j] < 0 else str(angles[j]),
                    transform=ax.transAxes, ha="center", va="center",
                    fontsize=9, color="#1A1A1A")
        # row strips on right column
        if j == ncol - 1:
            w = 75 / 300
            ax.add_patch(Rectangle((1, 0), w, 1, transform=ax.transAxes, clip_on=False,
                                   facecolor="#D9D9D9", edgecolor=border, linewidth=0.9))
            ax.text(1 + w / 2, 0.5, speeds[i], transform=ax.transAxes, ha="center",
                    va="center", rotation=-90, fontsize=9, color="#1A1A1A")

fig.text(49 / 3202, 1 - 598.5 / 1217, "Amplitude intensity [dB]", rotation=90,
         ha="center", va="center", fontsize=11.3, color="black")
fig.text(1644 / 3202, 1 - 1179 / 1217, "Range bins", ha="center", va="baseline",
         fontsize=11.3, color="black")

fig.savefig("out.png", dpi=300, facecolor="white")
